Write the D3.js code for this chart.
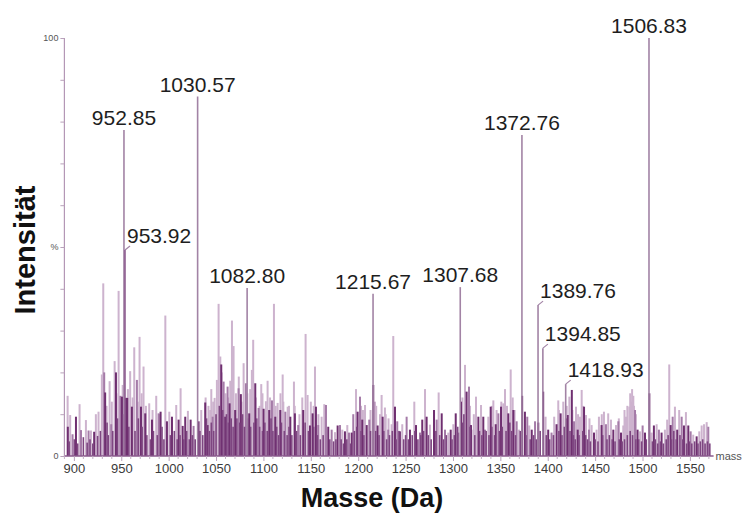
<!DOCTYPE html>
<html>
<head>
<meta charset="utf-8">
<script src="https://cdn.jsdelivr.net/npm/d3@7"></script>
<style>
  html, body { margin: 0; padding: 0; background: #fff; }
  svg { display: block; font-family: "Liberation Sans", Arial, sans-serif; }
</style>
</head>
<body>
<svg id="chart" width="744" height="526"></svg>
<script>
// ---------- DATA ----------
// Labeled peaks (mass in Da, relative intensity in %)
const labelMasses      = [952.85, 953.92, 1030.57, 1082.80, 1215.67, 1307.68, 1372.76, 1389.76, 1394.85, 1418.93, 1506.83];
const labelIntensities = [78.0,   49.3,   86.0,    40.2,    38.8,    40.4,    76.8,    36.1,    25.8,    17.2,    100.0];
// labels drawn to the right with a short leader
const leaderLabels = [953.92, 1389.76, 1394.85, 1418.93];

// Unlabeled peaks, by rendered shade: [mass, intensity %]
const lightPeaks = [
  [893.4,14.4],[896.1,9.8],[906,12.4],[912.7,8.6],[918,6.1],[923.2,10],[926,10.6],[929.5,19.5],[931,41.3],[937.7,17.9],
  [943,22.7],[947.2,39.5],[959.4,20.3],[963.7,26],[969.3,28.5],[973.5,21.4],[979.5,12.6],[986.9,14.4],[996.5,33.6],[1000.7,10.6],
  [1008,12.2],[1012.6,16.2],[1020.3,10.8],[1034.4,11],[1043.9,11],[1048.5,13.9],[1050.9,18.2],[1052.7,36.4],[1054.5,23.8],[1066.8,32.4],
  [1068.5,26.3],[1079.1,22.2],[1087.8,20.6],[1089.2,27.8],[1097.7,17.2],[1102.6,13.1],[1104.4,18],[1111.1,36.4],[1115,12.7],[1120.3,19.5],
  [1125.6,11.8],[1132.2,17.8],[1141,14],[1144.5,29.2],[1146.6,14.6],[1154.4,21.4],[1161.4,9.4],[1164.2,12.4],[1175.5,5.7],[1183.2,6.3],
  [1188.5,7.4],[1197.7,16],[1207.2,12.2],[1217.7,13],[1224.7,14.6],[1228.2,11.6],[1235.3,7.6],[1237,28.7],[1246.5,7.6],[1259.2,13],
  [1270.5,16],[1275.7,7.5],[1284.9,15.2],[1295.1,5.6],[1300.4,7.6],[1312.7,21.8],[1321.5,6.3],[1324.3,14.2],[1329.6,12.2],[1337.3,9.4],
  [1342.6,13.3],[1353.1,12.6],[1354.9,16],[1360.9,20.7],[1369.7,6.3],[1380.5,7.3],[1397.7,9.4],[1406.8,9.4],[1411.1,13.3],[1416.4,13],
  [1422.8,14.2],[1429.8,11.8],[1434,9.4],[1435.8,15.8],[1440.4,9.8],[1446.3,7.4],[1451.5,6.3],[1454,9.4],[1459.3,10.6],[1463.8,10.2],
  [1466.7,8.7],[1472,7.4],[1479.7,7.3],[1482.6,9.4],[1486.1,11.8],[1488.2,13],[1490.3,14.4],[1497.3,5.9],[1509.6,5.6],[1514.9,7.6],
  [1523.6,6.3],[1526,8.7],[1528.2,21.9],[1534.2,11.8],[1538.7,11],[1545.8,10.5],[1553.5,5.1],[1559.9,5.9],[1562.4,7.3],[1564.9,7.6],
  [1567.7,8.1],
  [934.5,12],[940,13],[945,15],[951.5,17],[957,16],[962,14],[967.5,13],[971.5,15],[976,12],[983,11],[990,10],
  [1039,14],[1042,12],[1045,16],[1047,13],[1056,20],[1060,15],[1063,14],[1065,18],[1071,15],[1074,19],[1077,13],
  [1083,15],[1086,16],[1092,14],[1096,12],[1099,15],[1107,14],[1113,12],[1118,15],[1121,13],[1127,12],[1133,12],
  [1138,10],[1150,13],[1153,12],[1158,10],[1203,12],[1205,11],[1213,11],[1219,12],[1223,10],[1229,10],[1232,9],
  [1310,14],[1318,12],[1322,10],[1341,12],[1346,11],[1351,13],[1357,12],[1363,14],[1365,11],
  [1411.8,11],[1420,12],[1426,11],[1432,10],[1437,12],[1444,9],[1457,10],[1475,9],[1481,11],[1484,12],[1487,15],
  [1489,16],[1491,12],[1493,10]
];
const midPeaks = [
  [898.6,5.2],[907.5,6.2],[915.5,6.1],[932,20],[939.4,7.6],[949,14.4],[966.5,18.2],[989.4,10.2],[1026.3,7.2],[1046.4,9.4],
  [1058,17.8],[1062.2,16.6],[1073.8,16.2],[1081.5,17.4],[1094.9,11.5],[1109,13.3],[1123.1,10.6],[1136.7,7.4],[1157.8,7.4],[1166,12.2],
  [1172,6.3],[1180.8,7.4],[1190.3,5.6],[1194.8,10],[1201.9,14.2],[1211.7,8.7],[1231.7,6.3],[1241.2,8.3],[1251.1,9.4],[1265.2,5.6],
  [1282.8,8.7],[1291.6,6.3],[1305.7,5.6],[1316.9,16.6],[1333.8,6.3],[1347.9,10.2],[1367.2,8.3],[1378.4,9.4],[1386.6,8.3],[1404,5.6],
  [1427.7,8.3],[1443.5,6.3],[1461.4,7.6],[1474.5,8.3],[1492.1,11],[1500.1,7.3],[1517.3,6.3],[1531.8,9.4],[1541.3,9.4],[1550.8,5.9],
  [1569.4,7]
];
const darkPeaks = [
  [893.6,7],[902.2,9.4],[921.4,5.8],[933,15.2],[944.4,20],[950.7,14.2],[955,13.9],[956.3,13.9],[961.2,11.8],[970.8,11.8],
  [975.3,10.2],[982.4,8.7],[991.5,10.6],[998.2,8.3],[1003.5,9.4],[1010.5,8.7],[1014.8,7.2],[1017.5,9.4],[1023.2,8.7],[1031.6,8.3],
  [1038.6,12.8],[1041.1,7.4],[1055.5,21.9],[1059.7,9.4],[1064.3,12.6],[1070.2,11],[1076.2,14.8],[1085,10.2],[1091.4,17.4],[1100.2,11.3],
  [1106.1,11],[1112.5,9.4],[1117.8,11],[1128.4,9.4],[1133.2,10.2],[1142,11],[1149.1,7.3],[1151.9,10.2],[1155.4,11.8],[1168.4,7],
  [1178.3,7.3],[1186,5.9],[1193.1,5.6],[1199.4,10.6],[1204.3,8.7],[1209,7.4],[1215.9,17],[1220.5,7.3],[1225.8,9.4],[1238.8,11.8],
  [1244,5.9],[1254.6,6.3],[1261,7.4],[1267.6,8.7],[1272.2,9.4],[1280,11],[1288.1,10.2],[1297.6,6.3],[1302.9,10.2],[1308.5,13],
  [1314.4,15.4],[1319,7.4],[1326.8,9.4],[1332,9.4],[1339.8,11.8],[1345.1,7.6],[1350.7,11.8],[1358.4,10.2],[1363.7,11],[1373,14.4],
  [1375.9,10.6],[1383.1,6.3],[1390,8],[1395.2,15.4],[1400.5,6.3],[1409.3,7.6],[1413.6,10.2],[1419.2,9],[1421.1,9.8],[1425.4,15.8],
  [1431.6,6.3],[1438.3,11.8],[1448.8,5.6],[1456.8,7.4],[1469.2,6.3],[1477.3,5.6],[1494.8,6.3],[1502.6,5.6],[1507.2,15],[1512,7.3],
  [1520.1,5.6],[1529.7,7.4],[1536.6,6.3],[1543.7,7.3],[1548.3,7.3],[1557.1,4.7]
];
// small baseline peaks (drawn last, dark-medium shade)
const floorPeaks = [
  [895,3.5],[900.5,4],[904,3],[910,4.5],[914,3.2],[917,4],[920,3],[925,4.8],[928,6],[935,8],[936.3,5],[941,6],[946,9],
  [952,10],[958,7],[964.5,6],[968,9],[972,7],[977,5],[980.8,4],[984,6],[988,5],[993,7],[995,4],[1001.8,5],[1006,6],
  [1009,4],[1012,5],[1016,4],[1019,6],[1021.8,4],[1025,5],[1028,4],[1033,6],[1036,5],[1040,9],[1043,6],[1045,8],
  [1047.5,6],[1050,10],[1053.5,12],[1057,11],[1061,10],[1063,8],[1066,9],[1068,7],[1072,9],[1075,8],[1078,10],[1080,7],
  [1083.5,9],[1086.5,7],[1090,8],[1093,9],[1096,7],[1099,6],[1101.5,8],[1104,6],[1108,9],[1110,6],[1114,7],[1116,5],
  [1119,8],[1122,6],[1125,5],[1127,7],[1130,5],[1135,6],[1139,5],[1144,8],[1147.5,6],[1153,7],[1157,5],[1160,4],
  [1163,5],[1170,4],[1174,3.5],[1176.5,4],[1182,4],[1184.5,3],[1188,4],[1192,3],[1196,6],[1198.5,7],[1203,6],[1206,5],
  [1213,6],[1218.5,6],[1222,5],[1227,6],[1230,4],[1233,5],[1236,6],[1240,4],[1243,6],[1248,4],[1250,5],[1253,4],
  [1257,5],[1259.8,6],[1263,4],[1266,5],[1269,6],[1274,5],[1277,4],[1282,6],[1286,5],[1290,4],[1293,5],[1299,4],
  [1301.5,5],[1305,7],[1310,8],[1311.5,10],[1318,7],[1323,5],[1328,6],[1330.5,5],[1335,6],[1338,5],[1341,7],[1344,5],
  [1349,6],[1352,7],[1356,6],[1360,8],[1362,6],[1366,5],[1371,6],[1377,5],[1381.5,4],[1385,5],[1388,4],[1392,6],
  [1398.5,5],[1402,4],[1406,5],[1411.8,6],[1415,5],[1417.5,7],[1423.5,6],[1427,5],[1429,4],[1433,5],[1437,6],[1440,5],
  [1442,4],[1445,3.5],[1450,4],[1453,3.5],[1458,5],[1462.5,4],[1465,5],[1468,4],[1471,3.5],[1475.5,4],[1478.5,3.5],
  [1481,4],[1484,5],[1487,6],[1489.5,5],[1493,4],[1496,4],[1499,3.5],[1504,4],[1510.5,3.5],[1513.5,4],[1516,3],
  [1519,3.5],[1522,3],[1525,4],[1527,5],[1530.5,4],[1533,6],[1535.5,4],[1539.5,5],[1542.5,4],[1546.5,3],[1549.5,3.5],
  [1552,3],[1555,3.5],[1558.5,3],[1561,3.5],[1563.5,4],[1566,3],[1568.5,3.5],[1571,3]
];

// Axis ticks
const xTickValues = [900, 950, 1000, 1050, 1100, 1150, 1200, 1250, 1300, 1350, 1400, 1450, 1500, 1550];
const yTickValues = [0, 10, 20, 30, 40, 50, 60, 70, 80, 90, 100];
const yTickLabels = { 0: "0", 50: "%", 100: "100" };
const xUnitLabel = "mass";
const xTitle = "Masse (Da)";
const yTitle = "Intensität";

// ---------- CHART ----------
const svg = d3.select("#chart");
const x = d3.scaleLinear().domain([890, 1575]).range([64.4, 713.6]);
const y = d3.scaleLinear().domain([0, 100]).range([456, 38]);

const colors = { light: "#cdb3ce", mid: "#a57ba8", dark: "#6f2f70", floor: "#7e4681", labeled: "#a283a5" };

function drawPeaks(data, color, w) {
  svg.append("g").selectAll("rect").data(data).join("rect")
    .attr("x", d => x(d[0]) - w / 2)
    .attr("width", w)
    .attr("y", d => y(d[1]))
    .attr("height", d => y(0) - y(d[1]))
    .attr("fill", color);
}
drawPeaks(lightPeaks, colors.light, 2);
drawPeaks(midPeaks, colors.mid, 2);
drawPeaks(darkPeaks, colors.dark, 2);
drawPeaks(floorPeaks, colors.floor, 1.6);

// labeled peaks
const labeled = labelMasses.map((m, i) => ({ m, v: labelIntensities[i], lead: leaderLabels.includes(m) }));
const gl = svg.append("g");
gl.selectAll("line.pk").data(labeled).join("line")
  .attr("class", "pk")
  .attr("x1", d => x(d.m)).attr("x2", d => x(d.m))
  .attr("y1", y(0)).attr("y2", d => y(d.v))
  .attr("stroke", d => d.m === 953.92 ? "#8d5c90" : colors.labeled)
  .attr("stroke-width", 1.6);
gl.selectAll("line.ld").data(labeled.filter(d => d.lead)).join("line")
  .attr("class", "ld")
  .attr("x1", d => x(d.m)).attr("y1", d => y(d.v))
  .attr("x2", d => x(d.m) + 5).attr("y2", d => y(d.v) - 4)
  .attr("stroke", colors.labeled).attr("stroke-width", 1.2);
gl.selectAll("text").data(labeled).join("text")
  .attr("x", d => d.lead ? x(d.m) + 2 : x(d.m))
  .attr("y", d => d.lead ? y(d.v) - 7 : y(d.v) - 5)
  .attr("text-anchor", d => d.lead ? "start" : "middle")
  .attr("font-size", 21)
  .attr("fill", "#1e1e1e")
  .text(d => d.m.toFixed(2));

// x axis
const xAxis = d3.axisBottom(x).tickValues(xTickValues).tickSize(5).tickPadding(3).tickFormat(d3.format("d"));
const gx = svg.append("g").attr("transform", `translate(0,${y(0)})`).call(xAxis);
gx.select(".domain").attr("stroke", "#8a5a8c").attr("stroke-width", 1.6).attr("d", `M${x(890)},0H${x(1575)}`);
gx.selectAll(".tick line").attr("stroke", "#b9a2bb");
gx.selectAll(".tick text").attr("font-size", 13).attr("fill", "#3a3a3a").attr("font-family", "Liberation Sans, Arial, sans-serif");
// minor ticks
const minor = d3.range(890, 1575, 10).filter(v => !xTickValues.includes(v));
svg.append("g").selectAll("line").data(minor).join("line")
  .attr("x1", d => x(d)).attr("x2", d => x(d))
  .attr("y1", y(0)).attr("y2", y(0) + 3)
  .attr("stroke", "#c3b0c5");

svg.append("text").attr("x", x(1575) + 2).attr("y", y(0) + 4)
  .attr("font-size", 11).attr("fill", "#555").text(xUnitLabel);

// y axis
const yAxis = d3.axisLeft(y).tickValues(yTickValues).tickSize(4).tickPadding(2)
  .tickFormat(d => yTickLabels[d] || "");
const gy = svg.append("g").attr("transform", `translate(${x(890)},0)`).call(yAxis);
gy.select(".domain").attr("stroke", "#b497b6").attr("stroke-width", 1.2).attr("d", `M0,${y(0)}V${y(100)}`);
gy.selectAll(".tick line").attr("stroke", "#b9a2bb");
gy.selectAll(".tick text").attr("font-size", 9).attr("fill", "#555").attr("font-family", "Liberation Sans, Arial, sans-serif");

// titles
svg.append("text").attr("x", 372).attr("y", 507).attr("text-anchor", "middle")
  .attr("font-size", 27).attr("font-weight", "bold").attr("fill", "#111").text(xTitle);
svg.append("text").attr("transform", "translate(35,250) rotate(-90)").attr("text-anchor", "middle")
  .attr("font-size", 29).attr("font-weight", "bold").attr("fill", "#111").text(yTitle);
</script>
</body>
</html>
